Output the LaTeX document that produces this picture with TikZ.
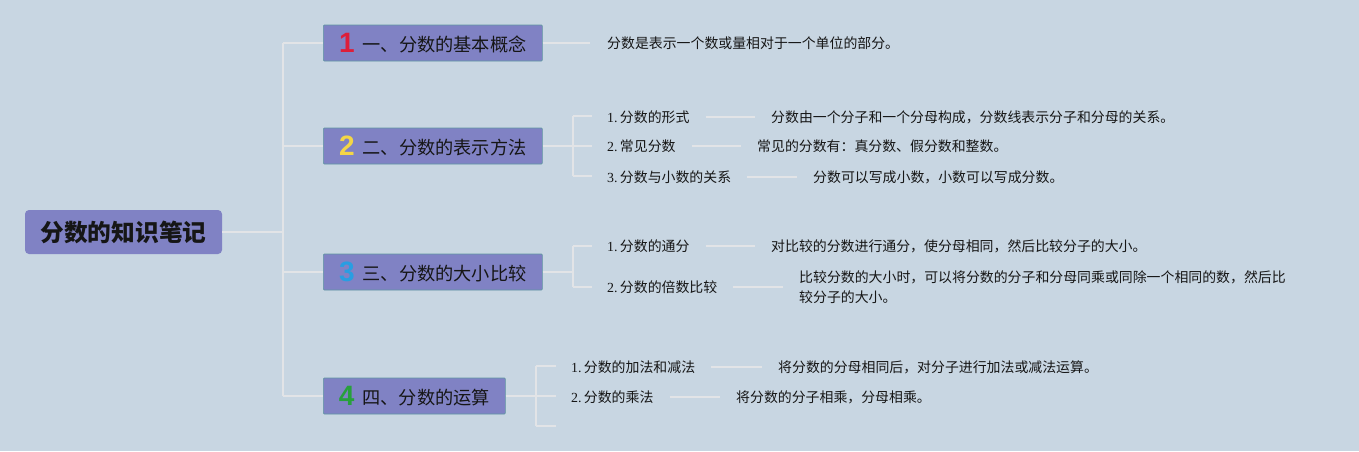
\documentclass[tikz,border=0pt]{standalone}
\usepackage{fontspec}
\setmainfont{Noto Sans CJK SC}
\newfontfamily\serifnum{Liberation Serif}
\newfontfamily\digitfont{Liberation Sans}
\definecolor{bgc}{RGB}{200,214,226}
\definecolor{linec}{RGB}{226,228,231}
\definecolor{boxfill}{RGB}{128,130,196}
\definecolor{boxborder}{RGB}{96,150,162}
\definecolor{numred}{RGB}{222,30,58}
\definecolor{numyellow}{RGB}{244,214,70}
\definecolor{numblue}{RGB}{40,158,226}
\definecolor{numgreen}{RGB}{40,160,60}
\definecolor{txt}{RGB}{22,22,22}
\newcommand{\bignum}[2]{\raisebox{-1pt}{\digitfont\bfseries\fontsize{28}{28}\selectfont\color{#1}#2}\hspace{8pt}}
\newcommand{\sublab}[2]{{\serifnum #1}\,#2}
\begin{document}
\begin{tikzpicture}[x=1pt,y=-1pt,
  conn/.style={draw=linec, line width=1.6pt},
  rootbox/.style={fill=boxfill, rounded corners=4pt, minimum width=197pt, minimum height=44pt, inner sep=0pt, text=txt, font=\bfseries\fontsize{23.7}{26}\selectfont},
  branchbox/.style={draw=boxborder, fill=boxfill, line width=0.7pt, rounded corners=1pt, minimum height=36pt, inner sep=0pt, anchor=west, text=txt, font=\fontsize{18.2}{20}\selectfont},
  subtext/.style={anchor=west, inner sep=0pt, text=txt, font=\fontsize{13.9}{20}\selectfont},
  gapline/.style={conn, shorten <=16pt, shorten >=16pt}
]
\fill[bgc] (0,0) rectangle (1359,451);
\useasboundingbox (0,0) rectangle (1359,451);

% root
\node[rootbox] (root) at (123.5,232) {分数的知识笔记};

% branch boxes
\node[branchbox, minimum width=219pt] (b1) at (323,43) {\bignum{numred}{1}一、分数的基本概念};
\node[branchbox, minimum width=219pt] (b2) at (323,146) {\bignum{numyellow}{2}二、分数的表示方法};
\node[branchbox, minimum width=219pt] (b3) at (323,272) {\bignum{numblue}{3}三、分数的大小比较};
\node[branchbox, minimum width=182pt] (b4) at (323,396) {\bignum{numgreen}{4}四、分数的运算};

% trunk
\coordinate (tmid) at (283,232);
\coordinate (ttop) at (283,43);
\coordinate (tbot) at (283,396);
\draw[conn] (root.east) -- (tmid);
\draw[conn] (ttop) -- (tbot);
\draw[conn] (ttop) -- (b1.west);
\draw[conn] (b2.west -| ttop) -- (b2.west);
\draw[conn] (b3.west -| ttop) -- (b3.west);
\draw[conn] (tbot) -- (b4.west);

% branch 1
\node[subtext] (d1) at (607,43) {分数是表示一个数或量相对于一个单位的部分。};
\draw[conn, shorten >=17pt] (b1.east) -- (d1.west);

% branch 2
\coordinate (k2) at (573,146);
\coordinate (k2t) at (573,116);
\coordinate (k2b) at (573,176);
\draw[conn] (b2.east) -- (k2);
\draw[conn] (k2t) -- (k2b);
\node[subtext] (l21) at (607,117) {\sublab{1.}{分数的形式}};
\node[subtext] (l22) at (607,146) {\sublab{2.}{常见分数}};
\node[subtext] (l23) at (607,177) {\sublab{3.}{分数与小数的关系}};
\draw[conn, shorten >=15pt] (k2t) -- (l21.west |- k2t);
\draw[conn, shorten >=15pt] (k2) -- (l22.west |- k2);
\draw[conn, shorten >=15pt] (k2b) -- (l23.west |- k2b);
\node[subtext] (d21) at (771,117) {分数由一个分子和一个分母构成，分数线表示分子和分母的关系。};
\node[subtext] (d22) at (757,146) {常见的分数有：真分数、假分数和整数。};
\node[subtext] (d23) at (813,177) {分数可以写成小数，小数可以写成分数。};
\draw[gapline] (l21.east) -- (d21.west);
\draw[gapline] (l22.east) -- (d22.west);
\draw[gapline] (l23.east) -- (d23.west);

% branch 3
\coordinate (k3) at (573,272);
\coordinate (k3t) at (573,246);
\coordinate (k3b) at (573,287);
\draw[conn] (b3.east) -- (k3);
\draw[conn] (k3t) -- (k3b);
\node[subtext] (l31) at (607,246) {\sublab{1.}{分数的通分}};
\node[subtext] (l32) at (607,287) {\sublab{2.}{分数的倍数比较}};
\draw[conn, shorten >=15pt] (k3t) -- (l31.west |- k3t);
\draw[conn, shorten >=15pt] (k3b) -- (l32.west |- k3b);
\node[subtext] (d31) at (771,246) {对比较的分数进行通分，使分母相同，然后比较分子的大小。};
\node[subtext, align=left] (d32) at (799,287) {比较分数的大小时，可以将分数的分子和分母同乘或同除一个相同的数，然后比\\较分子的大小。};
\draw[gapline] (l31.east) -- (d31.west);
\draw[gapline] (l32.east) -- (d32.west);

% branch 4
\coordinate (k4) at (536,396);
\coordinate (k4t) at (536,366);
\coordinate (k4b) at (536,426);
\coordinate (k4e) at (556,426);
\draw[conn] (b4.east) -- (k4);
\draw[conn] (k4t) -- (k4b);
\node[subtext] (l41) at (571,367) {\sublab{1.}{分数的加法和减法}};
\node[subtext] (l42) at (571,397) {\sublab{2.}{分数的乘法}};
\draw[conn, shorten >=15pt] (k4t) -- (l41.west |- k4t);
\draw[conn, shorten >=15pt] (k4) -- (l42.west |- k4);
\draw[conn] (k4b) -- (k4e);
\node[subtext] (d41) at (778,367) {将分数的分母相同后，对分子进行加法或减法运算。};
\node[subtext] (d42) at (736,397) {将分数的分子相乘，分母相乘。};
\draw[gapline] (l41.east) -- (d41.west);
\draw[gapline] (l42.east) -- (d42.west);
\end{tikzpicture}
\end{document}
